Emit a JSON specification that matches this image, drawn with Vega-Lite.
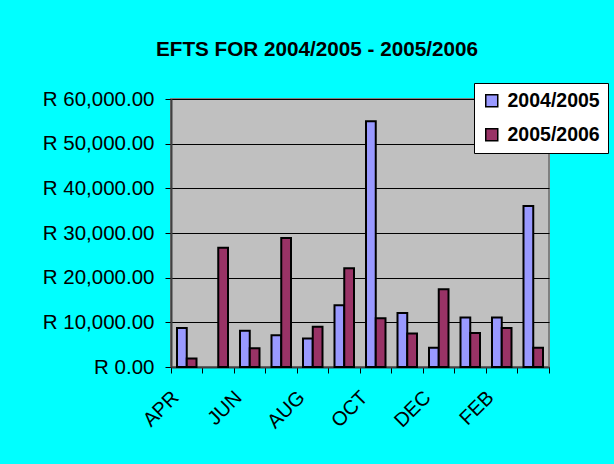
{
  "$schema": "https://vega.github.io/schema/vega-lite/v6.json",
  "autosize": "none",
  "width": 378,
  "height": 268,
  "padding": {"left": 171, "top": 99, "right": 65, "bottom": 97},
  "background": "#00FFFF",
  "title": {
    "text": "EFTS FOR 2004/2005 - 2005/2006",
    "font": "Liberation Sans",
    "fontSize": 20.7,
    "fontWeight": "bold",
    "color": "#000000",
    "anchor": "middle",
    "dx": -43,
    "offset": 22
  },
  "config": {
    "font": "Liberation Sans",
    "view": {"fill": "#C0C0C0", "stroke": "#808080", "strokeWidth": 2}
  },
  "data": {
    "values": [
      {"month": "APR", "series": "2004/2005", "value": 8750},
      {"month": "APR", "series": "2005/2006", "value": 1900},
      {"month": "MAY", "series": "2004/2005", "value": null},
      {"month": "MAY", "series": "2005/2006", "value": 26700},
      {"month": "JUN", "series": "2004/2005", "value": 8100},
      {"month": "JUN", "series": "2005/2006", "value": 4200},
      {"month": "JUL", "series": "2004/2005", "value": 7100},
      {"month": "JUL", "series": "2005/2006", "value": 28900},
      {"month": "AUG", "series": "2004/2005", "value": 6400},
      {"month": "AUG", "series": "2005/2006", "value": 9000},
      {"month": "SEP", "series": "2004/2005", "value": 13800},
      {"month": "SEP", "series": "2005/2006", "value": 22100},
      {"month": "OCT", "series": "2004/2005", "value": 55000},
      {"month": "OCT", "series": "2005/2006", "value": 10900},
      {"month": "NOV", "series": "2004/2005", "value": 12100},
      {"month": "NOV", "series": "2005/2006", "value": 7500},
      {"month": "DEC", "series": "2004/2005", "value": 4300},
      {"month": "DEC", "series": "2005/2006", "value": 17400},
      {"month": "JAN", "series": "2004/2005", "value": 11100},
      {"month": "JAN", "series": "2005/2006", "value": 7600},
      {"month": "FEB", "series": "2004/2005", "value": 11100},
      {"month": "FEB", "series": "2005/2006", "value": 8750},
      {"month": "MAR", "series": "2004/2005", "value": 36050},
      {"month": "MAR", "series": "2005/2006", "value": 4300}
    ]
  },
  "mark": {"type": "bar", "stroke": "#000000", "strokeWidth": 2},
  "encoding": {
    "x": {
      "field": "month",
      "type": "nominal",
      "sort": ["APR", "MAY", "JUN", "JUL", "AUG", "SEP", "OCT", "NOV", "DEC", "JAN", "FEB", "MAR"],
      "scale": {"paddingInner": 0, "paddingOuter": 0},
      "axis": {
        "title": null,
        "bandPosition": 1,
        "tickExtra": true,
        "labelOffset": -11,
        "labelAngle": -45,
        "labelAlign": "right",
        "labelBaseline": "middle",
        "labelFontSize": 20,
        "labelColor": "#000000",
        "labelPadding": 21,
        "labelExpr": "indexof(['APR','JUN','AUG','OCT','DEC','FEB'], datum.value) >= 0 ? datum.value : ''",
        "tickColor": "#000000",
        "tickSize": 6,
        "domainColor": "#404040",
        "domainWidth": 2,
        "grid": false
      }
    },
    "xOffset": {
      "field": "series",
      "type": "nominal",
      "sort": ["2004/2005", "2005/2006"],
      "scale": {"paddingInner": 0, "paddingOuter": 0.615}
    },
    "y": {
      "field": "value",
      "type": "quantitative",
      "scale": {"domain": [0, 60000], "nice": false},
      "axis": {
        "title": null,
        "values": [0, 10000, 20000, 30000, 40000, 50000, 60000],
        "labelExpr": "'R ' + format(datum.value, ',.2f')",
        "labelFontSize": 20.5,
        "labelColor": "#000000",
        "labelPadding": 11,
        "tickColor": "#000000",
        "tickSize": 6,
        "domainColor": "#404040",
        "domainWidth": 2,
        "grid": true,
        "gridColor": "#000000",
        "gridWidth": 1,
        "gridOpacity": 1
      }
    },
    "fill": {
      "field": "series",
      "type": "nominal",
      "scale": {"domain": ["2004/2005", "2005/2006"], "range": ["#9999FF", "#993366"]},
      "legend": {
        "title": null,
        "orient": "none",
        "legendX": 303,
        "legendY": -16,
        "fillColor": "#FFFFFF",
        "strokeColor": "#000000",
        "padding": 8,
        "labelFontSize": 19.5,
        "labelFontWeight": "bold",
        "labelColor": "#000000",
        "labelOffset": 6,
        "symbolType": "square",
        "symbolSize": 144,
        "symbolStrokeColor": "#000000",
        "symbolStrokeWidth": 1.5,
        "symbolOpacity": 1,
        "rowPadding": 13
      }
    }
  }
}
